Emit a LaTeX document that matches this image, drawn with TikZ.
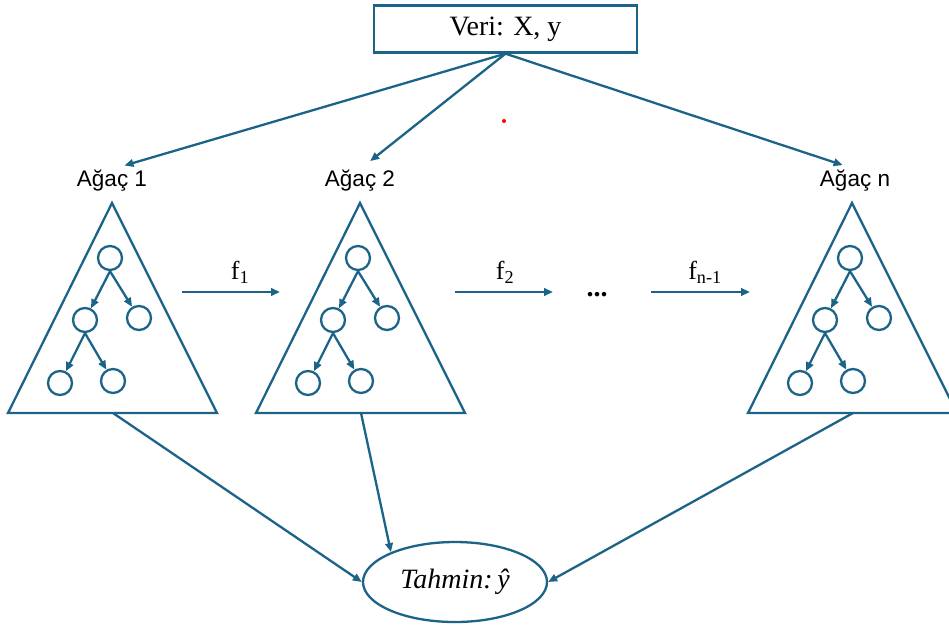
\documentclass[tikz,border=0pt]{standalone}
\usepackage{fontspec}
\setmainfont{Liberation Serif}
\newfontfamily\labfont{Liberation Sans}
\usetikzlibrary{arrows.meta,shapes.geometric}
\definecolor{tc}{HTML}{1C6388}
\begin{document}
\begin{tikzpicture}[x=1pt,y=-1pt,
  line width=2.3pt,
  arr/.style={draw=tc,-{Triangle[length=9pt,width=7.5pt]}},
  tri/.style={draw=tc,line join=miter},
  leaf/.style={circle,draw=tc,minimum size=24pt,inner sep=0pt},
  lab/.style={font=\labfont\fontsize{22.5}{26}\selectfont,inner sep=0pt},
  flab/.style={font=\fontsize{26}{30}\selectfont,inner sep=0pt},
  tree/.pic={
    \draw[tri] (112,203) -- (217,413) -- (8,413) -- cycle;
    \coordinate (-base) at (113,413);
    \node[leaf] (-a) at (110,258) {};
    \node[leaf] (-b) at (85,320) {};
    \node[leaf] (-c) at (139,318) {};
    \node[leaf] (-d) at (60,383) {};
    \node[leaf] (-e) at (113,381) {};
    \draw[arr] (-a.south) -- (-b);
    \draw[arr] (-a.south) -- (-c);
    \draw[arr] (-b.south) -- (-d);
    \draw[arr] (-b.south) -- (-e);
  }]
\useasboundingbox (0,0) rectangle (949,633);

\node[draw=tc,minimum width=263pt,minimum height=47pt,inner sep=0pt,
      font=\fontsize{28}{32}\selectfont] (veri) at (505.5,29) {Veri: X, y};

\node[circle,fill=red,inner sep=0pt,minimum size=4pt] (dot) at (504,121) {};

\pic (T1) at (0,0) {tree};
\pic (T2) at (248,0) {tree};
\pic (Tn) at (740,0) {tree};

\node[lab] (L1) at (112,181) {Ağaç 1};
\node[lab] (L2) at (360,181) {Ağaç 2};
\node[lab] (Ln) at (855,181) {Ağaç n};

\draw[arr,shorten >=13pt] (veri.south) -- (L1.north);
\draw[arr,shorten >=13pt] (veri.south) -- (L2.north);
\draw[arr,shorten >=13pt] (veri.south) -- (Ln.north);

\coordinate (f1s) at (182,292);
\coordinate (f1e) at (280,292);
\coordinate (f2s) at (455,292);
\coordinate (f2e) at (553,292);
\coordinate (f3s) at (651,292);
\coordinate (f3e) at (750,292);
\draw[arr] (f1s) -- (f1e);
\draw[arr] (f2s) -- (f2e);
\draw[arr] (f3s) -- (f3e);
\node[flab] (lf1) at (240,272) {f\textsubscript{1}};
\node[flab] (lf2) at (505,272) {f\textsubscript{2}};
\node[flab] (lf3) at (705,272) {f\textsubscript{n-1}};
\node[flab,font=\bfseries\fontsize{28}{32}\selectfont] (dots) at (597,295) {...};

\node[ellipse,draw=tc,minimum width=184pt,minimum height=80pt,inner sep=0pt,
      font=\itshape\fontsize{28}{32}\selectfont] (pred) at (455,582) {Tahmin:\,ŷ};

\draw[arr] (T1-base) -- (pred.west);
\draw[arr] (T2-base) -- (pred.155);
\draw[arr] (Tn-base) -- (pred.east);
\end{tikzpicture}
\end{document}
